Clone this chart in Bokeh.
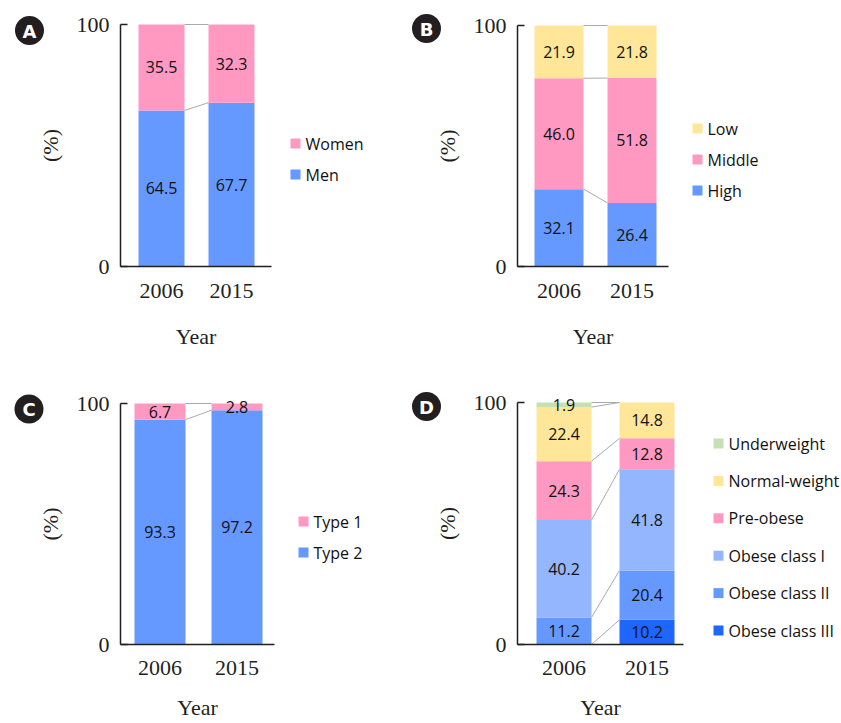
import numpy as np
from bokeh.plotting import figure
from bokeh.layouts import column, row
from bokeh.models import Range1d, FixedTicker, ColumnDataSource
from bokeh.core.properties import value
from bokeh.embed import file_html
from bokeh.resources import INLINE

# ---------------- data ----------------
years = ["2006", "2015"]

a_series = ["Men", "Women"]
a_men = [64.5, 67.7]
a_women = [35.5, 32.3]

b_series = ["High", "Middle", "Low"]
b_high = [32.1, 26.4]
b_middle = [46.0, 51.8]
b_low = [21.9, 21.8]

c_series = ["Type 2", "Type 1"]
c_type2 = [93.3, 97.2]
c_type1 = [6.7, 2.8]

d_series = ["Obese class III", "Obese class II", "Obese class I",
            "Pre-obese", "Normal-weight", "Underweight"]
d_obese3 = [0.0, 10.2]
d_obese2 = [11.2, 20.4]
d_obese1 = [40.2, 41.8]
d_preobese = [24.3, 12.8]
d_normal = [22.4, 14.8]
d_under = [1.9, 0.0]

y_ticks = [0, 100]

# ---------------- style ----------------
PINK = "#FF99C2"
BLUE = "#6699FF"
YELLOW = "#FFE699"
GREEN = "#C5E0B4"
LBLUE = "#94B6FF"
DBLUE = "#1F66FF"
INK = "#231F20"
SERIF = "Liberation Serif"
SANS = "Open Sans"


def panel(letter, names, values, colors, W, H, L):
    ux = L["c1"] - L["c0"]
    uy = (L["y0"] - L["y100"]) / 100.0

    def px2x(px):
        return (px - L["c0"]) / ux

    def py2y(py):
        return (L["y0"] - py) / uy

    p = figure(width=W, height=H,
               x_range=Range1d(px2x(0), px2x(W)),
               y_range=Range1d(py2y(H), py2y(0)),
               output_backend="svg", toolbar_location=None,
               min_border=0, min_border_left=0, min_border_right=0,
               min_border_top=0, min_border_bottom=0)
    p.outline_line_color = None
    p.grid.visible = False
    p.background_fill_color = "white"
    p.border_fill_color = "white"

    xs = list(range(len(years)))
    bw = L["bw"] / ux
    data = {"x": xs}
    for n, v in zip(names, values):
        data[n] = v
    src = ColumnDataSource(data)
    p.vbar_stack(names, x="x", width=bw, fill_color=colors,
                 line_color=None, source=src)

    vals = np.array(values, dtype=float)          # (series, years)
    tops = np.cumsum(vals, axis=0)
    bottoms = tops - vals

    # connector lines between bars at every boundary
    p.segment(x0=[xs[0] + bw / 2] * len(names), y0=list(tops[:, 0]),
              x1=[xs[1] - bw / 2] * len(names), y1=list(tops[:, 1]),
              line_color="#AAAAAA", line_width=1)

    # value labels
    lx, ly, lt = [], [], []
    for i in range(len(names)):
        for j in xs:
            if vals[i, j] > 0:
                lx.append(j)
                ly.append(bottoms[i, j] + vals[i, j] / 2)
                lt.append(f"{vals[i, j]:.1f}")
    p.text(x=lx, y=ly, text=lt, text_align="center", text_baseline="middle",
           text_font=value(SANS), text_font_size="16px", text_color="#111111")

    # legend (top-down = reverse of stacking order)
    order = list(range(len(names)))[::-1]
    sy = [py2y(L["leg_y"] + k * L["leg_dy"]) for k in range(len(order))]
    p.scatter(x=[px2x(L["leg_x"] + 5)] * len(order), y=sy, marker="square",
              size=10, fill_color=[colors[i] for i in order], line_color=None)
    p.text(x=[px2x(L["leg_x"] + 15)] * len(order), y=sy,
           text=[names[i] for i in order], text_align="left",
           text_baseline="middle", text_font=value(SANS),
           text_font_size="16px", text_color="#111111")

    # panel letter
    p.scatter(x=[px2x(L["lc"][0])], y=[py2y(L["lc"][1])], marker="circle",
              size=29, fill_color=INK, line_color=None)
    p.text(x=[px2x(L["lc"][0])], y=[py2y(L["lc"][1] + 0.5)], text=[letter],
           text_align="center", text_baseline="middle",
           text_font=value("DejaVu Sans"), text_font_style="bold",
           text_font_size="18px", text_color="white")

    # axes
    xa = p.xaxis[0]
    xa.fixed_location = 0
    xa.ticker = FixedTicker(ticks=xs)
    xa.major_label_overrides = {i: y for i, y in enumerate(years)}
    xa.bounds = (px2x(L["ax"]), px2x(L["aend"]))
    xa.major_tick_in = 0
    xa.major_tick_out = 0
    xa.minor_tick_line_color = None
    xa.axis_line_color = INK
    xa.axis_line_width = 1.5
    xa.major_label_text_font = SERIF
    xa.major_label_text_font_size = "22px"
    xa.major_label_text_color = INK
    xa.major_label_standoff = L.get("tstand", 17)
    xa.axis_label = "Year"
    xa.axis_label_text_font = SERIF
    xa.axis_label_text_font_size = "22px"
    xa.axis_label_text_font_style = "normal"
    xa.axis_label_text_color = INK
    xa.axis_label_standoff = L.get("lstand", 23)

    ya = p.yaxis[0]
    ya.fixed_location = px2x(L["ax"])
    ya.ticker = FixedTicker(ticks=y_ticks)
    ya.bounds = (0, 100)
    ya.major_tick_in = 7
    ya.major_tick_out = 0
    ya.major_tick_line_color = INK
    ya.major_tick_line_width = 1.5
    ya.minor_tick_line_color = None
    ya.axis_line_color = INK
    ya.axis_line_width = 1.5
    ya.major_label_text_font = SERIF
    ya.major_label_text_font_size = "22px"
    ya.major_label_text_color = INK
    ya.major_label_standoff = 11
    ya.axis_label = "(%)"
    ya.axis_label_text_font = SERIF
    ya.axis_label_text_font_size = "22px"
    ya.axis_label_text_font_style = "normal"
    ya.axis_label_text_color = INK
    ya.axis_label_standoff = 11
    return p


pA = panel("A", a_series, [a_men, a_women], [BLUE, PINK], 400, 379,
           dict(ax=120, c0=161, c1=231, bw=46, y100=24, y0=266, aend=271,
                leg_x=290, leg_y=143, leg_dy=31, lc=(29, 30)))
pB = panel("B", b_series, [b_high, b_middle, b_low], [BLUE, PINK, YELLOW],
           441, 379,
           dict(ax=117, c0=158.5, c1=231.5, bw=49, y100=25, y0=266, aend=268,
                leg_x=292, leg_y=128, leg_dy=31, lc=(26, 28)))
pC = panel("C", c_series, [c_type2, c_type1], [BLUE, PINK], 400, 344,
           dict(ax=120, c0=159.5, c1=236.5, bw=51, y100=24, y0=265, aend=274,
                leg_x=298, leg_y=142, leg_dy=31, lc=(28.5, 29.5),
                tstand=16, lstand=17))
pD = panel("D", d_series,
           [d_obese3, d_obese2, d_obese1, d_preobese, d_normal, d_under],
           [DBLUE, BLUE, LBLUE, PINK, YELLOW, GREEN], 441, 344,
           dict(ax=117, c0=163.5, c1=246.5, bw=55, y100=23, y0=265, aend=283,
                leg_x=313, leg_y=64, leg_dy=37.4, lc=(26, 27),
                tstand=16, lstand=17))

layout = column(row(pA, pB), row(pC, pD))
open("out.html", "w").write(file_html(layout, INLINE))
